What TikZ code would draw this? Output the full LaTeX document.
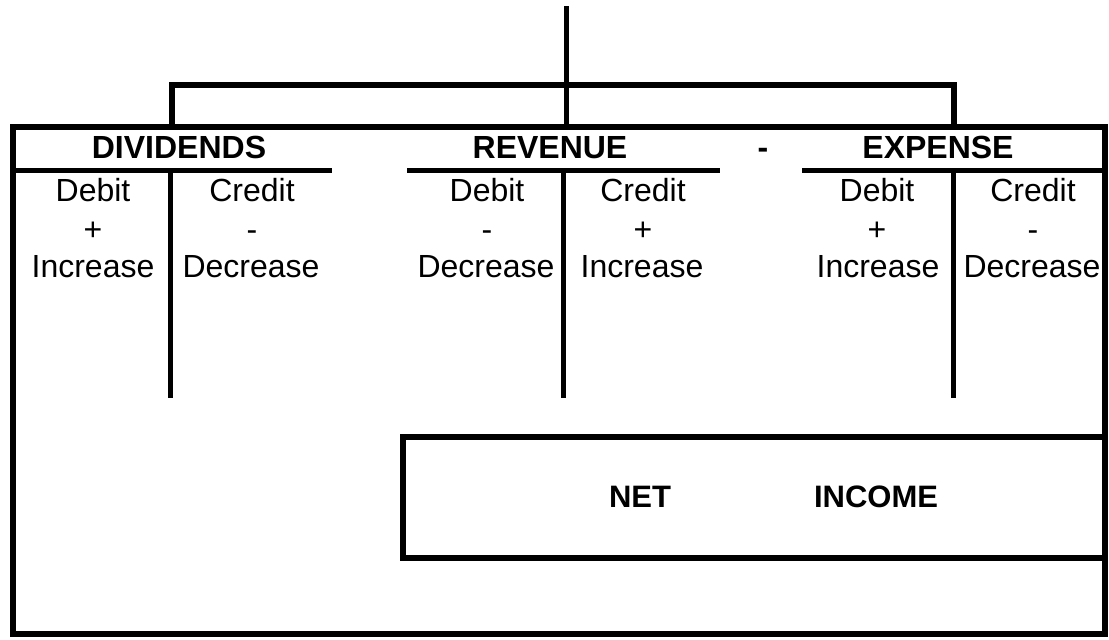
\documentclass[tikz,border=0pt]{standalone}
\usepackage{fontspec}
\setmainfont{Liberation Sans}
\begin{document}
\begin{tikzpicture}[x=1pt,y=-1pt,
  thick line/.style={line width=6.5pt},
  rule line/.style={line width=5pt},
  head/.style={anchor=base,inner sep=0pt,font=\fontsize{32}{32}\selectfont\bfseries},
  lbl/.style={anchor=base,inner sep=0pt,font=\fontsize{32}{32}\selectfont},
  netlbl/.style={anchor=base,inner sep=0pt,font=\fontsize{31}{31}\selectfont\bfseries}]
\useasboundingbox (0,0) rectangle (1109,640);
% named corner coordinates
\coordinate (topA) at (566,6);
\coordinate (topB) at (566,127);
\coordinate (brL) at (172,127);
\coordinate (brR) at (954,127);
\coordinate (boxTL) at (13,127);
\coordinate (boxBR) at (1105,634);
\coordinate (niTL) at (403,437);
\coordinate (niBR) at (1105,558);
% top line and bracket
\draw[rule line] (topA) -- (topB);
\draw[thick line,line join=miter] (brL) -- (172,85) -- (954,85) -- (brR);
% outer box
\draw[thick line] (boxTL) rectangle (boxBR);
% T-account underlines
\draw[rule line] (13,170) -- (332,170);
\draw[rule line] (407,170) -- (720,170);
\draw[rule line] (802,170) -- (1105,170);
% T-account verticals
\draw[rule line] (170,170) -- (170,398);
\draw[rule line] (563,170) -- (563,398);
\draw[rule line] (953,170) -- (953,398);
% net income box
\draw[rule line,line width=5.5pt] (niTL) rectangle (niBR);
% headers
\node[head] (hdiv) at (179,158) {DIVIDENDS};
\node[head] (hrev) at (550,158) {REVENUE};
\node[head] (hmin) at (763,158) {-};
\node[head] (hexp) at (938,158) {EXPENSE};
% dividends
\node[lbl] (d1) at (93,201) {Debit};
\node[lbl] (d2) at (93,240) {+};
\node[lbl] (d3) at (93,277) {Increase};
\node[lbl] (d4) at (252,201) {Credit};
\node[lbl] (d5) at (252,240) {-};
\node[lbl] (d6) at (251,277) {Decrease};
% revenue
\node[lbl] (r1) at (487,201) {Debit};
\node[lbl] (r2) at (487,240) {-};
\node[lbl] (r3) at (486,277) {Decrease};
\node[lbl] (r4) at (643,201) {Credit};
\node[lbl] (r5) at (643,240) {+};
\node[lbl] (r6) at (642,277) {Increase};
% expense
\node[lbl] (e1) at (877,201) {Debit};
\node[lbl] (e2) at (877,240) {+};
\node[lbl] (e3) at (878,277) {Increase};
\node[lbl] (e4) at (1033,201) {Credit};
\node[lbl] (e5) at (1033,240) {-};
\node[lbl] (e6) at (1032,277) {Decrease};
% net income
\node[netlbl] (net) at (640,507) {NET};
\node[netlbl] (inc) at (876,507) {INCOME};
\end{tikzpicture}
\end{document}
